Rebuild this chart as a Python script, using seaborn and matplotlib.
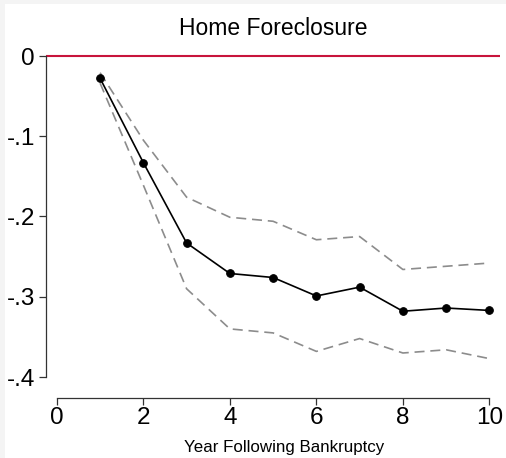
import matplotlib
matplotlib.use('Agg')
import matplotlib.pyplot as plt
from matplotlib.patches import Rectangle
import pandas as pd
import seaborn as sns

# values
years = [1, 2, 3, 4, 5, 6, 7, 8, 9, 10]
coef = [-0.028, -0.133, -0.233, -0.271, -0.276, -0.299, -0.288, -0.318, -0.314, -0.317]
upper = [-0.021, -0.105, -0.176, -0.201, -0.206, -0.229, -0.225, -0.266, -0.262, -0.258]
lower = [-0.034, -0.161, -0.290, -0.340, -0.345, -0.368, -0.352, -0.370, -0.366, -0.377]

y_ticks = [0, -0.1, -0.2, -0.3, -0.4]
y_labels = ['0', '-.1', '-.2', '-.3', '-.4']
x_ticks = [0, 2, 4, 6, 8, 10]

df = pd.DataFrame({'year': years, 'coef': coef, 'upper': upper, 'lower': lower})

sns.set_style('white')
plt.rcParams['font.family'] = ['Liberation Sans', 'DejaVu Sans']
plt.rcParams['text.color'] = 'black'

fig = plt.figure(figsize=(5.062, 4.582), dpi=100, facecolor='white')
# thin grey strips along the top and left edge, as in the reference
fig.patches.append(Rectangle((0, 0), 5 / 506, 1, transform=fig.transFigure,
                             facecolor='#f4f4f4', edgecolor='none'))
fig.patches.append(Rectangle((0, 1 - 4 / 458), 1, 4 / 458, transform=fig.transFigure,
                             facecolor='#f4f4f4', edgecolor='none'))

ax = fig.add_axes([46 / 506, 1 - 398 / 458, 454 / 506, 344 / 458])
ax.set_facecolor('white')

ax.axhline(0, color='#c8143c', lw=1.5, zorder=1)
sns.lineplot(data=df, x='year', y='upper', ax=ax, color='#8c8c8c', lw=1.2,
             linestyle=(0, (6, 3.5)))
sns.lineplot(data=df, x='year', y='lower', ax=ax, color='#8c8c8c', lw=1.2,
             linestyle=(0, (6, 3.5)))
sns.lineplot(data=df, x='year', y='coef', ax=ax, color='black', lw=1.2,
             marker='o', markersize=5.5, markeredgecolor='black')

ax.set_xlim(-0.25, 10.25)
ax.set_ylim(-0.426, 0.0025)

ax.set_xticks(x_ticks)
ax.set_xticklabels([str(t) for t in x_ticks])
ax.set_yticks(y_ticks)
ax.set_yticklabels(y_labels)

for side in ['top', 'right']:
    ax.spines[side].set_visible(False)
ax.spines['left'].set_bounds(-0.4, 0)
ax.spines['bottom'].set_bounds(0, 10)
for side in ['left', 'bottom']:
    ax.spines[side].set_color('#333333')
    ax.spines[side].set_linewidth(0.9)

ax.tick_params(axis='both', direction='out', length=5, width=0.9, color='#333333',
               labelsize=17.5, labelcolor='black')
ax.tick_params(axis='y', pad=3, left=True)
ax.tick_params(axis='x', pad=1, bottom=True)

ax.set_xlabel('')
ax.set_ylabel('')
fig.text(284 / 506, 1 - 447 / 458, 'Year Following Bankruptcy', ha='center', va='center',
         fontsize=12.2, color='black')
fig.text(273 / 506, 1 - 28 / 458, 'Home Foreclosure', ha='center', va='center',
         fontsize=16.5, color='black')

fig.savefig('out.png', dpi=100, facecolor=fig.get_facecolor())
